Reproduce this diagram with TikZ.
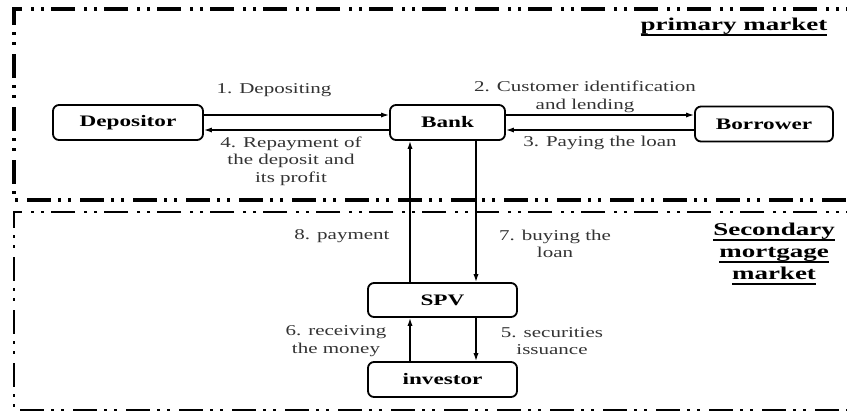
\documentclass[tikz,border=0pt]{standalone}
\usepackage{fontspec}
\setmainfont{Liberation Serif}
\newfontfamily\lblfont{Liberation Serif}[FakeStretch=1.4]
\newfontfamily\boxfont{Liberation Serif}[FakeStretch=1.45]
\newfontfamily\hdfont{Liberation Serif}[FakeStretch=1.5]
\newcommand{\hul}[1]{\leavevmode\setbox0=\hbox{#1}\rlap{\rule[-2.6pt]{\wd0}{1pt}}\box0}
\usetikzlibrary{positioning, arrows.meta}

\begin{document}
\begin{tikzpicture}[x=0.5pt,y=-0.5pt,blk/.style={draw, rounded corners=3pt, line width=0.9pt, minimum height=17.5pt, inner sep=0pt, font=\boxfont\bfseries\fontsize{8}{9.6}\selectfont},lbl/.style={align=center, inner sep=0pt, text=black!80, font=\lblfont\fontsize{7.5}{8.75}\selectfont},hd/.style={align=center, inner sep=0pt, font=\hdfont\bfseries\fontsize{9}{11}\selectfont},frm/.style={dash pattern=on 12pt off 3.5pt on 1.5pt off 3.5pt on 1.5pt off 4.5pt},flow/.style={-{Latex[length=4pt,width=2.6pt]}, line width=0.7pt}]
  \useasboundingbox (0,0) rectangle (847,414);
  \draw[frm, line width=1.6pt] (870,9) -- (14,9) -- (14,200) -- (870,200);
  \draw[frm, line width=1.4pt] (870,212) -- (14,212) -- (14,410) -- (870,410);

  \node[blk, minimum width=75pt] (dep) at (128,122.5) {Depositor};
  \node[blk, minimum width=57.5pt] (bank) at (447.5,122.5) {Bank};
  \node[blk, minimum width=69pt] (borr) at (764,124) {Borrower};
  \node[blk, minimum width=74.5pt, minimum height=17pt] (spv) at (442.5,300) {SPV};
  \node[blk, minimum width=74.5pt] (inv) at (442.5,379.5) {investor};

  \coordinate (up) at ([xshift=-18.75pt]bank.south);
  \coordinate (dn) at ([xshift=14.25pt]bank.south);

  \draw[flow] ([yshift=3.75pt]dep.east) -- ([yshift=3.75pt]bank.west);
  \draw[flow] ([yshift=-3.75pt]bank.west) -- ([yshift=-3.75pt]dep.east);
  \draw[flow] ([yshift=3.75pt]bank.east) -- ([yshift=4.5pt]borr.west);
  \draw[flow] ([yshift=-3pt]borr.west) -- ([yshift=-3.75pt]bank.east);
  \draw[flow] (spv.north -| up) -- (up);
  \draw[flow] (dn) -- (spv.north -| dn);
  \draw[flow] (inv.north -| up) -- (spv.south -| up);
  \draw[flow] (spv.south -| dn) -- (inv.north -| dn);

  \node[lbl] (t1) at (274,90) {1. Depositing};
  \node[lbl] (t2) at (585,97) {2. Customer identification\\and lending};
  \node[lbl] (t3) at (600,143) {3. Paying the loan};
  \node[lbl] (t4) at (291,161) {4. Repayment of\\the deposit and\\its profit};
  \node[lbl] (t5) at (552,341) {5. securities\\issuance};
  \node[lbl] (t6) at (336,341) {6. receiving\\the money};
  \node[lbl] (t7) at (555,244) {7. buying the\\loan};
  \node[lbl] (t8) at (342,236) {8. payment};

  \node[hd] (prim) at (734,27) {\hul{primary market}};
  \node[hd] (sec) at (774,254) {\hul{Secondary}\\\hul{mortgage}\\\hul{market}};
\end{tikzpicture}
\end{document}
